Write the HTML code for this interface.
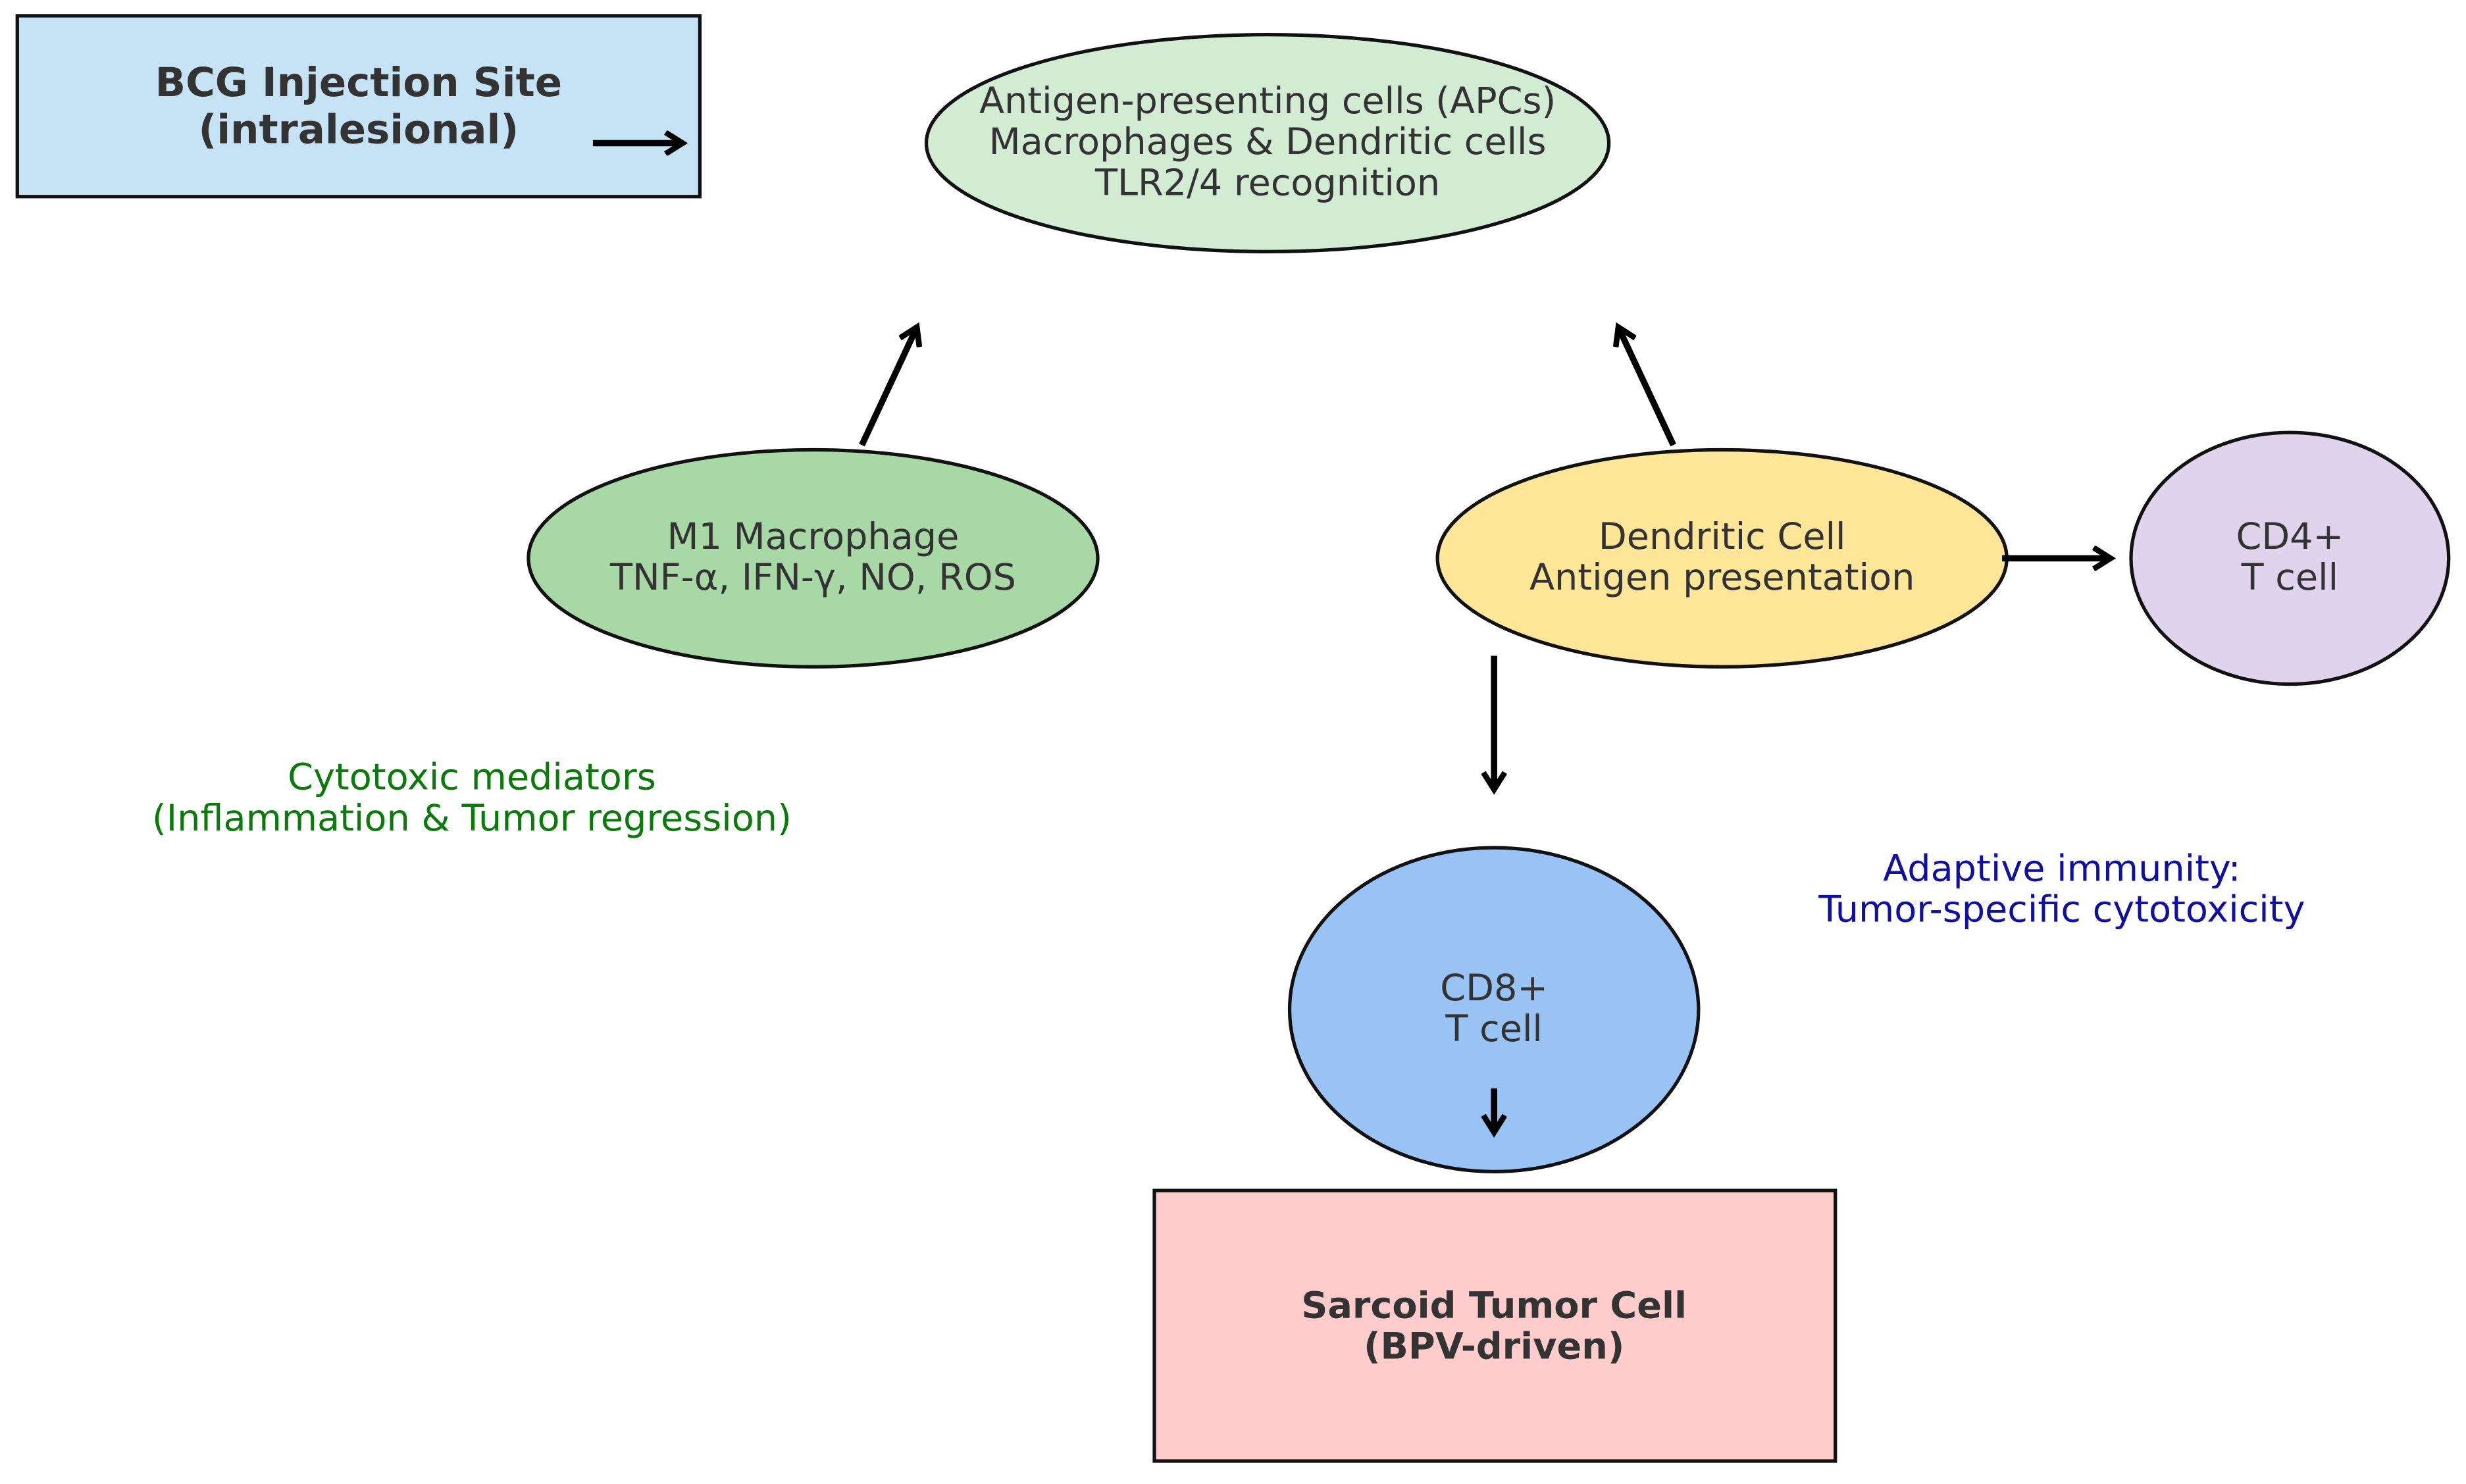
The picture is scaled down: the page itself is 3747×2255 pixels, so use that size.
<!DOCTYPE html>
<html><head><meta charset="utf-8"><style>html,body{margin:0;padding:0;background:#fff}svg{display:block}</style></head>
<body>
<svg width="3747" height="2255" viewBox="0 0 1568 943.6" xmlns="http://www.w3.org/2000/svg" font-family="DejaVu Sans, Liberation Sans, sans-serif">
<defs><marker id="a" markerWidth="4" markerHeight="4" refX="3" refY="2" orient="auto" markerUnits="strokeWidth"><path d="M0.3,0.3 L3,2 L0.3,3.7" fill="none" stroke="#000" stroke-width="0.9"/></marker></defs>
<rect x="11" y="10" width="434" height="115" fill="#c6e2f5" stroke="#111" stroke-width="2.2"/>
<text x="228" y="61" text-anchor="middle" font-size="25.5" font-weight="bold" fill="#333">BCG Injection Site</text>
<text x="228" y="91" text-anchor="middle" font-size="25.5" font-weight="bold" fill="#333">(intralesional)</text>
<line x1="377" y1="91" x2="434" y2="91" stroke="#000" stroke-width="4" marker-end="url(#a)"/>
<ellipse cx="806" cy="91" rx="217" ry="69" fill="#d2ebd3" stroke="#111" stroke-width="2.2"/>
<text x="806" y="72" text-anchor="middle" font-size="23.3" fill="#333">Antigen-presenting cells (APCs)</text>
<text x="806" y="98" text-anchor="middle" font-size="23.3" fill="#333">Macrophages &amp; Dendritic cells</text>
<text x="806" y="124" text-anchor="middle" font-size="23.3" fill="#333">TLR2/4 recognition</text>
<ellipse cx="517" cy="355" rx="181" ry="69" fill="#a8d8a6" stroke="#111" stroke-width="2.2"/>
<text x="517" y="349" text-anchor="middle" font-size="23.3" fill="#333">M1 Macrophage</text>
<text x="517" y="375" text-anchor="middle" font-size="23.3" fill="#333">TNF-α, IFN-γ, NO, ROS</text>
<ellipse cx="1095" cy="355" rx="181" ry="69" fill="#fee699" stroke="#111" stroke-width="2.2"/>
<text x="1095" y="349" text-anchor="middle" font-size="23.3" fill="#333">Dendritic Cell</text>
<text x="1095" y="375" text-anchor="middle" font-size="23.3" fill="#333">Antigen presentation</text>
<ellipse cx="1456" cy="355" rx="101" ry="80" fill="#dfd4ec" stroke="#111" stroke-width="2.2"/>
<text x="1456" y="349" text-anchor="middle" font-size="23.3" fill="#333">CD4+</text>
<text x="1456" y="375" text-anchor="middle" font-size="23.3" fill="#333">T cell</text>
<ellipse cx="950" cy="642" rx="130" ry="103" fill="#9ac3f5" stroke="#111" stroke-width="2.2"/>
<text x="950" y="636" text-anchor="middle" font-size="23.3" fill="#333">CD8+</text>
<text x="950" y="662" text-anchor="middle" font-size="23.3" fill="#333">T cell</text>
<rect x="734" y="757" width="433" height="172" fill="#ffcccc" stroke="#111" stroke-width="2.2"/>
<text x="950" y="838" text-anchor="middle" font-size="23.3" font-weight="bold" fill="#333">Sarcoid Tumor Cell</text>
<text x="950" y="864" text-anchor="middle" font-size="23.3" font-weight="bold" fill="#333">(BPV-driven)</text>
<text x="300" y="502" text-anchor="middle" font-size="23.3" fill="#0a7a0a">Cytotoxic mediators</text>
<text x="300" y="528" text-anchor="middle" font-size="23.3" fill="#0a7a0a">(Inflammation &amp; Tumor regression)</text>
<text x="1311" y="560" text-anchor="middle" font-size="23.3" fill="#1010a0">Adaptive immunity:</text>
<text x="1311" y="586" text-anchor="middle" font-size="23.3" fill="#1010a0">Tumor-specific cytotoxicity</text>
<g stroke="#000" stroke-width="4" marker-end="url(#a)">
<line x1="548" y1="283" x2="583" y2="208"/>
<line x1="1064" y1="283" x2="1029" y2="208"/>
<line x1="1273" y1="355" x2="1342" y2="355"/>
<line x1="950" y1="417" x2="950" y2="502"/>
<line x1="950" y1="692" x2="950" y2="720"/>
</g>
</svg>
</body></html>
